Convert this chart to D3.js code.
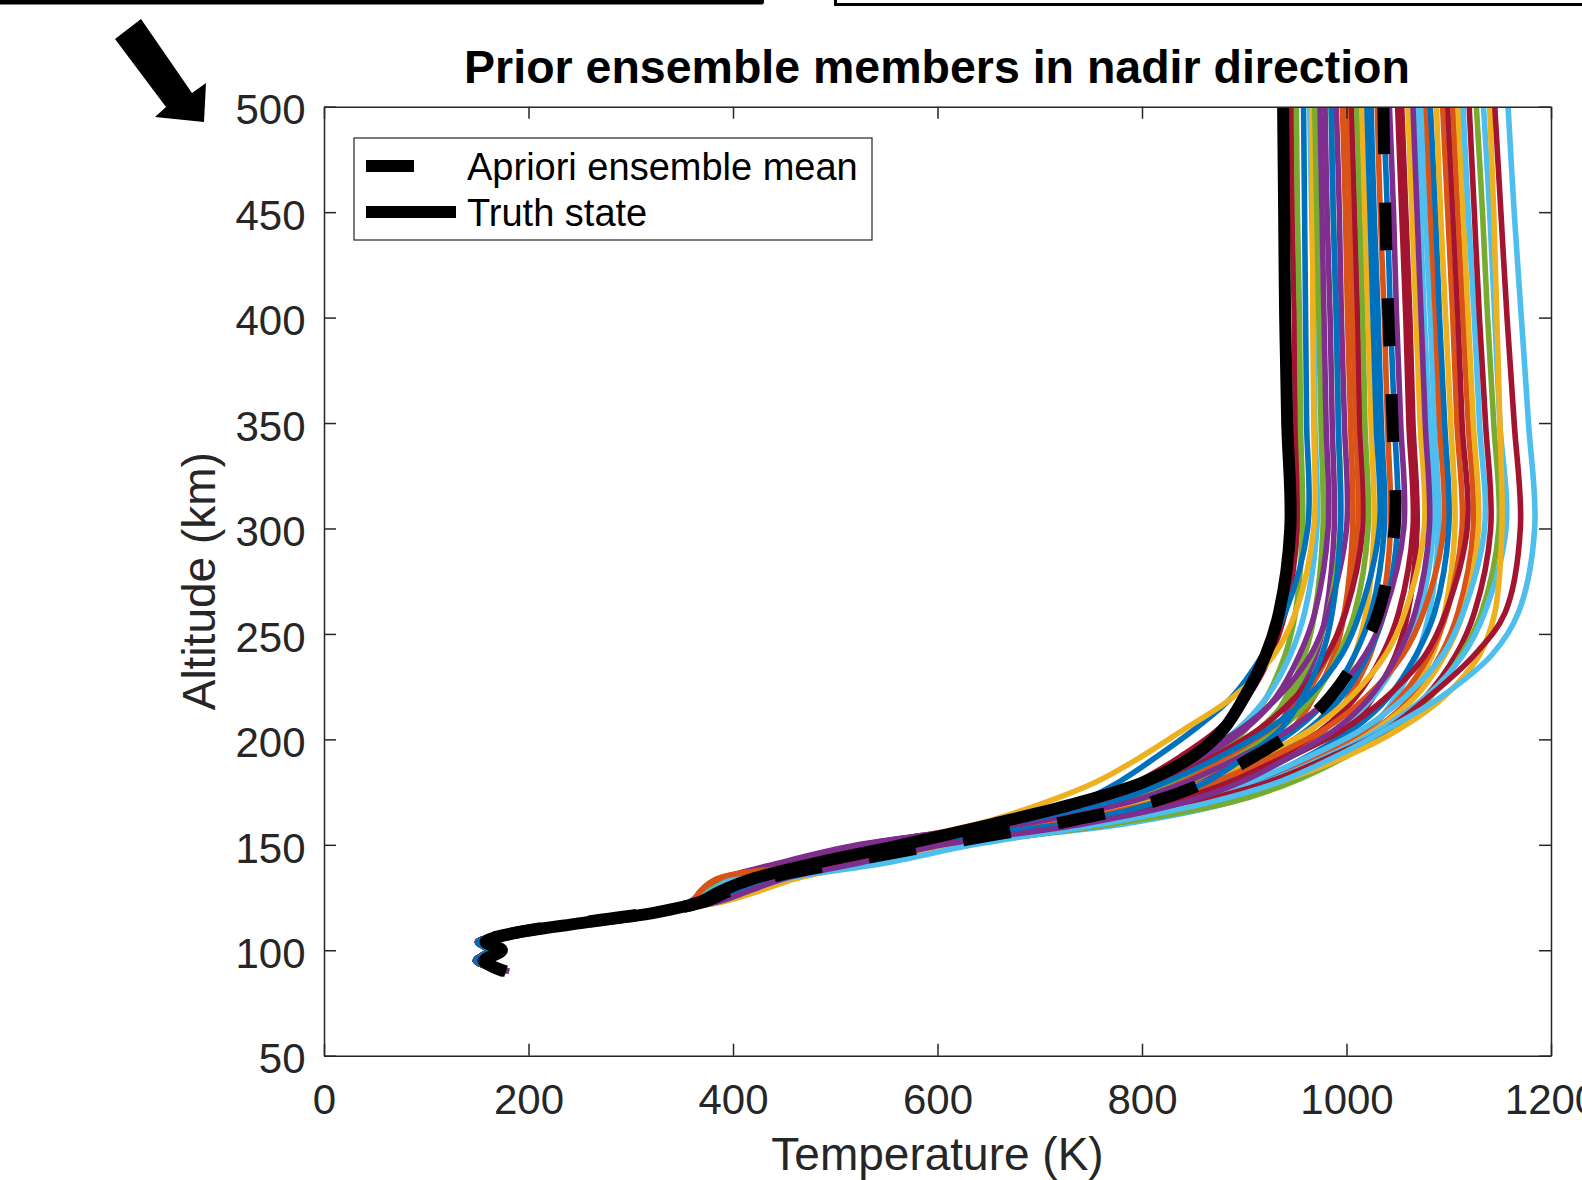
<!DOCTYPE html>
<html>
<head>
<meta charset="utf-8">
<script src="https://cdn.jsdelivr.net/npm/d3@7"></script>
<style>
  html, body { margin: 0; padding: 0; background: #fff; overflow: hidden; }
  svg { display: block; font-family: "Liberation Sans", Arial, Helvetica, sans-serif; }
</style>
</head>
<body>
<svg width="1582" height="1180"></svg>
<script>
// altitude grid (km) shared by every profile
const altitudes = [90, 95, 100, 104, 108, 113, 118, 123, 128, 134, 141, 150, 160, 170, 180, 192, 205, 220, 240, 260, 300, 350, 400, 450, 500];

// truth state and apriori ensemble mean, temperature (K)
const truthTemps = [178, 157, 174, 158, 185, 253, 325, 368, 388, 420, 478, 565, 655, 738, 803, 850, 880, 900, 921, 934, 945, 942, 940, 939, 938];
const meanTemps = [176, 156, 172, 157, 184, 250, 322, 372, 396, 432, 502, 600, 715, 808, 864, 910, 952, 984, 1012, 1031, 1047, 1045, 1041, 1038, 1036];

// prior ensemble members, temperature (K) at each altitude
const memberTemps = [
  [180, 156, 172, 157, 190, 262, 332, 360, 372, 392, 445, 525, 660, 745, 796, 838, 875, 903, 926, 940, 952, 950, 949, 947, 946],
  [180, 156, 172, 157, 190, 262, 332, 360, 372, 394, 450, 532, 690, 780, 831, 869, 902, 922, 940, 950, 957, 955, 954, 952, 951],
  [178, 158, 174, 159, 186, 256, 328, 368, 385, 415, 490, 575, 668, 738, 778, 815, 852, 888, 918, 940, 962, 961, 960, 959, 958],
  [180, 156, 172, 157, 190, 262, 332, 360, 372, 395, 455, 540, 676, 763, 814, 856, 894, 922, 945, 959, 971, 969, 968, 966, 964],
  [180, 156, 172, 157, 190, 262, 332, 360, 372, 395, 455, 540, 640, 705, 756, 800, 842, 889, 929, 950, 968, 968, 967, 967, 966],
  [178, 158, 174, 159, 186, 256, 328, 368, 385, 415, 477, 567, 716, 802, 851, 888, 921, 941, 959, 969, 977, 975, 973, 971, 969],
  [180, 156, 172, 157, 190, 262, 332, 358, 370, 390, 442, 522, 670, 762, 817, 861, 901, 931, 954, 969, 982, 980, 978, 976, 974],
  [178, 158, 174, 159, 186, 256, 328, 368, 385, 415, 475, 565, 718, 807, 858, 896, 930, 951, 970, 980, 988, 986, 984, 981, 979],
  [178, 158, 174, 159, 186, 256, 328, 368, 385, 415, 485, 575, 700, 784, 834, 877, 915, 944, 967, 982, 994, 992, 990, 987, 985],
  [180, 156, 172, 157, 190, 262, 332, 360, 372, 392, 448, 530, 655, 745, 800, 852, 897, 933, 965, 982, 1000, 998, 995, 993, 990],
  [180, 156, 172, 157, 192, 265, 334, 360, 368, 385, 485, 575, 731, 822, 874, 913, 947, 968, 988, 998, 1006, 1004, 1001, 999, 996],
  [178, 158, 174, 159, 186, 256, 328, 368, 385, 415, 475, 565, 698, 788, 841, 886, 927, 958, 982, 998, 1011, 1009, 1006, 1004, 1001],
  [178, 158, 174, 159, 186, 256, 328, 368, 385, 415, 491, 581, 688, 770, 823, 871, 915, 950, 981, 999, 1016, 1013, 1011, 1008, 1005],
  [180, 156, 172, 157, 190, 262, 333, 362, 375, 400, 477, 567, 703, 794, 848, 894, 935, 967, 992, 1008, 1021, 1018, 1016, 1013, 1010],
  [176, 148, 160, 150, 188, 258, 330, 378, 408, 445, 505, 592, 746, 839, 892, 932, 967, 988, 1008, 1019, 1027, 1024, 1021, 1018, 1015],
  [178, 158, 174, 159, 186, 256, 328, 368, 385, 415, 477, 567, 682, 770, 825, 877, 924, 962, 995, 1013, 1032, 1029, 1026, 1023, 1020],
  [176, 148, 160, 150, 188, 258, 330, 380, 410, 448, 505, 590, 720, 811, 865, 910, 951, 983, 1008, 1024, 1037, 1034, 1031, 1027, 1024],
  [178, 158, 174, 159, 186, 256, 328, 368, 385, 415, 489, 579, 747, 845, 900, 942, 980, 1002, 1023, 1034, 1043, 1040, 1037, 1033, 1030],
  [176, 148, 160, 150, 188, 258, 330, 375, 400, 435, 501, 591, 728, 820, 875, 922, 963, 995, 1021, 1037, 1050, 1047, 1043, 1040, 1036],
  [178, 158, 174, 159, 186, 256, 328, 368, 385, 415, 488, 578, 696, 786, 844, 897, 945, 984, 1018, 1037, 1056, 1053, 1049, 1046, 1042],
  [176, 148, 160, 150, 188, 258, 330, 375, 400, 435, 509, 599, 738, 832, 887, 935, 977, 1009, 1035, 1051, 1065, 1061, 1058, 1054, 1050],
  [178, 158, 174, 159, 186, 256, 328, 368, 385, 415, 495, 585, 760, 862, 920, 964, 1003, 1026, 1048, 1060, 1069, 1065, 1062, 1058, 1054],
  [181, 152, 170, 155, 184, 250, 324, 385, 418, 455, 515, 605, 717, 807, 864, 917, 966, 1004, 1038, 1057, 1076, 1072, 1068, 1064, 1060],
  [181, 157, 173, 158, 191, 263, 333, 362, 378, 402, 502, 592, 739, 838, 897, 947, 992, 1026, 1053, 1071, 1085, 1081, 1076, 1072, 1068],
  [181, 152, 170, 155, 184, 250, 324, 385, 415, 450, 525, 615, 784, 885, 942, 986, 1024, 1048, 1069, 1081, 1090, 1086, 1082, 1077, 1073],
  [180, 156, 172, 157, 192, 265, 334, 360, 368, 385, 493, 592, 716, 811, 872, 928, 979, 1019, 1055, 1075, 1095, 1091, 1087, 1082, 1078],
  [181, 152, 170, 155, 184, 250, 324, 388, 420, 458, 522, 612, 754, 853, 912, 962, 1007, 1041, 1068, 1086, 1100, 1096, 1091, 1087, 1082],
  [181, 152, 170, 155, 184, 250, 324, 385, 415, 450, 508, 598, 770, 875, 938, 988, 1036, 1061, 1084, 1096, 1106, 1102, 1097, 1092, 1088],
  [176, 148, 160, 150, 188, 258, 330, 375, 400, 435, 525, 615, 764, 864, 923, 974, 1019, 1053, 1081, 1098, 1113, 1108, 1104, 1099, 1094],
  [176, 148, 160, 150, 188, 258, 330, 375, 400, 435, 509, 599, 727, 825, 888, 946, 998, 1039, 1077, 1097, 1118, 1113, 1109, 1104, 1099],
  [181, 152, 170, 155, 184, 250, 324, 385, 415, 450, 531, 621, 771, 872, 932, 983, 1029, 1064, 1092, 1109, 1124, 1119, 1114, 1109, 1104],
  [181, 152, 170, 155, 184, 250, 324, 388, 422, 460, 522, 612, 765, 869, 931, 983, 1030, 1067, 1096, 1114, 1129, 1124, 1119, 1114, 1109],
  [181, 152, 170, 155, 184, 250, 324, 385, 415, 450, 535, 628, 752, 845, 907, 964, 1016, 1057, 1094, 1114, 1135, 1130, 1125, 1119, 1114],
  [176, 148, 160, 150, 188, 258, 330, 375, 400, 435, 519, 609, 768, 875, 938, 992, 1040, 1077, 1107, 1125, 1141, 1136, 1130, 1125, 1120],
  [181, 152, 170, 155, 184, 250, 324, 385, 415, 450, 530, 625, 772, 886, 948, 1000, 1045, 1082, 1112, 1132, 1149, 1144, 1138, 1133, 1127],
  [181, 152, 170, 155, 184, 250, 324, 385, 415, 450, 535, 627, 759, 860, 923, 981, 1034, 1077, 1114, 1135, 1156, 1150, 1145, 1140, 1134],
  [181, 152, 170, 155, 184, 250, 324, 390, 425, 462, 530, 618, 752, 862, 935, 1000, 1052, 1095, 1130, 1145, 1152, 1150, 1147, 1144, 1140],
  [176, 148, 160, 150, 188, 258, 330, 375, 400, 435, 512, 602, 745, 850, 925, 985, 1040, 1080, 1125, 1155, 1170, 1164, 1157, 1151, 1145],
  [181, 152, 170, 155, 184, 250, 324, 385, 415, 452, 545, 635, 762, 865, 935, 990, 1040, 1092, 1142, 1168, 1184, 1178, 1171, 1164, 1158],
  [176, 148, 160, 150, 188, 258, 330, 378, 405, 440, 482, 557, 724, 813, 864, 902, 936, 957, 976, 986, 994, 992, 990, 987, 985],
  [181, 152, 170, 155, 184, 250, 324, 385, 415, 450, 520, 605, 744, 840, 898, 946, 990, 1023, 1050, 1067, 1081, 1077, 1073, 1069, 1065]
];

// MATLAB default colour order, and the colour index of each member
const palette = ["#0072BD", "#D95319", "#EDB120", "#7E2F8E", "#77AC30", "#4DBEEE", "#A2142F"];
const memberColorIdx = [6, 4, 0, 5, 2, 4, 3, 3, 4, 3, 1, 1, 6, 4, 2, 0, 0, 1, 0, 3, 6, 6, 2, 5, 5, 1, 0, 2, 1, 6, 1, 2, 5, 6, 4, 5, 2, 6, 5, 0, 3];

const xTicks = [0, 200, 400, 600, 800, 1000, 1200];
const yTicks = [50, 100, 150, 200, 250, 300, 350, 400, 450, 500];
const legendLabels = ["Apriori ensemble mean", "Truth state"];

const svg = d3.select("svg");
const plot = { left: 324, right: 1551, top: 106.7, bottom: 1055.7 };
const axisColor = "#262626";

const x = d3.scaleLinear().domain([0, 1200]).range([plot.left, plot.right]);
const y = d3.scaleLinear().domain([50, 500]).range([plot.bottom, plot.top]);

// decorations from the surrounding figure
svg.append("rect").attr("x", -4).attr("y", -4).attr("width", 768).attr("height", 8.5).attr("rx", 2.5).attr("fill", "#000");
svg.append("path").attr("d", "M835.5,0 V4.5 H1582").attr("fill", "none").attr("stroke", "#000").attr("stroke-width", 3);
svg.append("path")
  .attr("d", "M141,19 L192,93 L206,83 L204,122 L155,117 L166,107 L115,39 Z")
  .attr("fill", "#000");

svg.append("defs").append("clipPath").attr("id", "clip")
  .append("rect")
  .attr("x", plot.left).attr("y", plot.top)
  .attr("width", plot.right - plot.left).attr("height", plot.bottom - plot.top);

const line = d3.line()
  .x(d => x(d[1]))
  .y(d => y(d[0]))
  .curve(d3.curveCatmullRom.alpha(0.5));

const lines = svg.append("g").attr("clip-path", "url(#clip)");

// ensemble members
lines.selectAll(".member")
  .data(memberTemps)
  .enter()
  .append("path")
  .attr("class", "member")
  .attr("d", temps => line(altitudes.map((a, i) => [a, temps[i]])))
  .attr("fill", "none")
  .attr("stroke", (d, i) => palette[memberColorIdx[i]])
  .attr("stroke-width", 5.6);

// truth state
lines.append("path")
  .attr("d", line(altitudes.map((a, i) => [a, truthTemps[i]])))
  .attr("fill", "none")
  .attr("stroke", "#000")
  .attr("stroke-width", 12);

// ensemble mean, dash phase set so a dash starts at the top of the axes
const meanPath = lines.append("path")
  .attr("d", line(altitudes.map((a, i) => [a, meanTemps[i]])))
  .attr("fill", "none")
  .attr("stroke", "#000")
  .attr("stroke-width", 12)
  .attr("stroke-dasharray", "48,48");
const L = meanPath.node().getTotalLength();
meanPath.attr("stroke-dashoffset", (((48 - L) % 96) + 96) % 96);

// axes (box with inward ticks)
function styleAxis(g) {
  g.selectAll("path.domain").attr("stroke", axisColor).attr("stroke-width", 1.5);
  g.selectAll(".tick line").attr("stroke", axisColor).attr("stroke-width", 1.5);
  g.selectAll(".tick text")
    .attr("fill", axisColor)
    .style("font-size", "42px")
    .style("font-family", "'Liberation Sans', Arial, Helvetica, sans-serif");
}

svg.append("g")
  .attr("transform", `translate(0, ${plot.bottom})`)
  .call(d3.axisBottom(x).tickValues(xTicks).tickFormat(d3.format("d")).tickSizeInner(-12).tickSizeOuter(0).tickPadding(28.5))
  .call(styleAxis);

svg.append("g")
  .attr("transform", `translate(${plot.left}, 0)`)
  .call(d3.axisLeft(y).tickValues(yTicks).tickFormat(d3.format("d")).tickSizeInner(-12).tickSizeOuter(0).tickPadding(18.5))
  .call(styleAxis)
  .call(g => g.selectAll(".tick text").attr("dy", "0.41em"));

svg.append("g")
  .attr("transform", `translate(0, ${plot.top})`)
  .call(d3.axisTop(x).tickValues(xTicks).tickSizeInner(-12).tickSizeOuter(0).tickFormat(""))
  .call(styleAxis);

svg.append("g")
  .attr("transform", `translate(${plot.right}, 0)`)
  .call(d3.axisRight(y).tickValues(yTicks).tickSizeInner(-12).tickSizeOuter(0).tickFormat(""))
  .call(styleAxis);

// axis titles and chart title
svg.append("text")
  .attr("x", (plot.left + plot.right) / 2)
  .attr("y", 1170)
  .attr("text-anchor", "middle")
  .attr("fill", axisColor)
  .style("font-size", "46px")
  .text("Temperature (K)");

svg.append("text")
  .attr("transform", `translate(215, ${(plot.top + plot.bottom) / 2}) rotate(-90)`)
  .attr("text-anchor", "middle")
  .attr("fill", axisColor)
  .style("font-size", "46px")
  .text("Altitude (km)");

svg.append("text")
  .attr("x", 937)
  .attr("y", 83)
  .attr("text-anchor", "middle")
  .attr("fill", "#000")
  .style("font-size", "46.5px")
  .style("font-weight", "bold")
  .text("Prior ensemble members in nadir direction");

// legend
const legend = svg.append("g");
legend.append("rect")
  .attr("x", 354).attr("y", 138)
  .attr("width", 518).attr("height", 102)
  .attr("fill", "#fff")
  .attr("stroke", axisColor)
  .attr("stroke-width", 1.2);

const legendRows = [
  { label: legendLabels[0], dash: "48,48", y: 166 },
  { label: legendLabels[1], dash: null, y: 212 }
];
legendRows.forEach(r => {
  legend.append("line")
    .attr("x1", 366).attr("x2", 456)
    .attr("y1", r.y).attr("y2", r.y)
    .attr("stroke", "#000")
    .attr("stroke-width", 12)
    .attr("stroke-dasharray", r.dash);
  legend.append("text")
    .attr("x", 467)
    .attr("y", r.y + 13.5)
    .attr("fill", "#000")
    .style("font-size", "38px")
    .text(r.label);
});
</script>
</body>
</html>
